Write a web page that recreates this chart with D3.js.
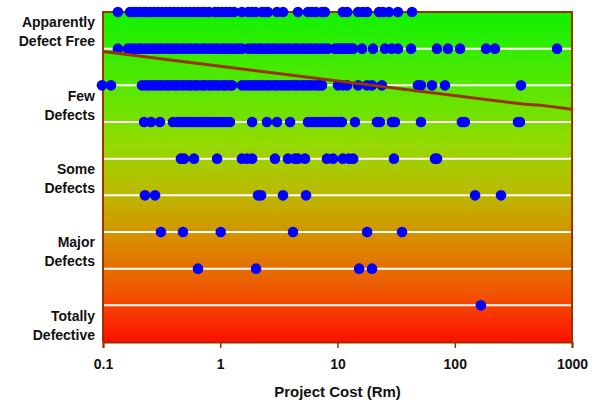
<!DOCTYPE html>
<html>
<head>
<meta charset="utf-8">
<script src="https://cdn.jsdelivr.net/npm/d3@7"></script>
<style>
  html, body { margin: 0; padding: 0; background: #ffffff; }
  svg { display: block; }
  text { font-family: "Liberation Sans", Arial, sans-serif; font-weight: bold; fill: #111; }
</style>
</head>
<body>
<div id="chart"></div>
<script>
// ---------- DATA ----------
// Project cost (Rm) of each project, grouped by quality level (9 = top row)
const level9Cost = [0.134, 0.170, 0.180, 0.191, 0.207, 0.224, 0.233, 0.252, 0.272, 0.294, 0.319, 0.345, 0.373,
  0.403, 0.436, 0.472, 0.511, 0.552, 0.597, 0.646, 0.698, 0.741, 0.802, 0.902, 0.957, 1.035, 1.12, 1.21, 1.31,
  1.53, 1.73, 1.87, 2.0, 2.27, 2.45, 2.55, 3.05, 3.43, 4.60, 5.60, 6.05, 6.55, 7.37, 7.82, 11.1, 12.1, 15.0,
  16.5, 17.9, 22.6, 24.4, 27.5, 32.8, 43.2];
const level8Cost = [0.134, 0.163, 0.176, 0.188, 0.203, 0.215, 0.233, 0.249, 0.267, 0.284, 0.306, 0.324, 0.351,
  0.373, 0.403, 0.428, 0.463, 0.491, 0.531, 0.563, 0.609, 0.646, 0.698, 0.741, 0.802, 0.851, 0.920, 0.976,
  1.06, 1.12, 1.21, 1.29, 1.39, 1.47, 1.53, 1.73, 1.87, 1.98, 2.14, 2.27, 2.45, 2.60, 2.81, 2.98, 3.23, 3.43,
  3.71, 3.94, 4.26, 4.51, 4.88, 5.18, 5.60, 5.94, 6.42, 6.82, 7.37, 7.82, 8.29, 9.51, 10.1, 10.7, 11.4, 12.1,
  12.8, 13.6, 16.2, 20.1, 25.4, 29.1, 32.8, 42.4, 70.5, 87.5, 111, 185, 220, 745];
const level7Cost = [0.098, 0.117, 0.215, 0.233, 0.249, 0.267, 0.284, 0.306, 0.324, 0.351, 0.373, 0.403, 0.428,
  0.463, 0.491, 0.531, 0.563, 0.609, 0.646, 0.698, 0.741, 0.802, 0.851, 0.920, 0.976, 1.06, 1.12, 1.21, 1.26,
  1.53, 1.66, 1.76, 1.90, 2.02, 2.18, 2.31, 2.50, 2.66, 2.87, 3.05, 3.30, 3.50, 3.78, 4.01, 4.34, 4.60, 4.98,
  5.28, 5.71, 6.05, 6.55, 6.94, 7.37, 10.1, 11.1, 12.1, 15.0, 17.9, 19.7, 23.9, 48.6, 51.5, 64.0, 82.5, 367];
const level6Cost = [0.224, 0.257, 0.306, 0.395, 0.428, 0.455, 0.491, 0.521, 0.563, 0.597, 0.646, 0.685, 0.741,
  0.787, 0.851, 0.902, 0.976, 1.035, 1.12, 1.21, 1.87, 2.50, 3.05, 3.94, 5.60, 6.05, 6.42, 6.94, 7.37, 7.97,
  8.46, 9.16, 9.71, 10.5, 10.9, 14.1, 21.7, 23.0, 29.1, 30.9, 51.5, 115, 122, 346, 360];
const level5Cost = [0.462, 0.491, 0.597, 0.94, 1.53, 1.69, 1.87, 2.93, 3.78, 4.34, 4.6, 5.28, 8.13, 9.16, 11.1,
  12.5, 13.6, 30.3, 67.9, 70.6];
const level4Cost = [0.228, 0.278, 2.10, 2.23, 3.43, 5.39, 149, 248];
const level3Cost = [0.312, 0.481, 1.01, 4.17, 17.9, 35.5];
const level2Cost = [0.646, 2.02, 15.3, 19.7];
const level1Cost = [167];

// Trend line (cost, level)
const trendCost = [0.1, 382, 533, 1000];
const trendLevel = [7.92, 6.49, 6.46, 6.35];

// Axis ticks and category labels
const xTickValues = [0.1, 1, 10, 100, 1000];
const xTickLabels = ["0.1", "1", "10", "100", "1000"];
const gridLevels = [1, 2, 3, 4, 5, 6, 7, 8];
const categoryLines = [["Apparently", "Defect Free"], ["Few", "Defects"], ["Some", "Defects"], ["Major", "Defects"], ["Totally", "Defective"]];
const categoryLevels = [8.58, 6.58, 4.58, 2.58, 0.58];
const xTitle = "Project Cost (Rm)";

// ---------- LAYOUT ----------
const W = 597, H = 405;
const plot = { left: 103, right: 572, top: 12, bottom: 342 };
const brown = "#993300";

const svg = d3.select("#chart").append("svg").attr("width", W).attr("height", H);

const x = d3.scaleLog().domain([0.1, 1000]).range([plot.left, plot.right]);
const y = d3.scaleLinear().domain([0, 9]).range([plot.bottom, plot.top]);

// gradient background
const defs = svg.append("defs");
const grad = defs.append("linearGradient").attr("id", "bg").attr("x1", 0).attr("y1", 0).attr("x2", 0).attr("y2", 1);
[[0, "rgb(16,242,0)"], [0.25, "rgb(95,230,0)"], [0.4, "rgb(148,218,0)"], [0.55, "rgb(188,185,0)"],
 [0.7, "rgb(218,138,0)"], [0.85, "rgb(240,85,0)"], [1, "rgb(255,16,0)"]].forEach(s =>
  grad.append("stop").attr("offset", s[0]).attr("stop-color", s[1]));

svg.append("rect")
  .attr("x", plot.left).attr("y", plot.top)
  .attr("width", plot.right - plot.left).attr("height", plot.bottom - plot.top)
  .attr("fill", "url(#bg)");

// white gridlines
svg.append("g").selectAll("line").data(gridLevels).join("line")
  .attr("x1", plot.left).attr("x2", plot.right)
  .attr("y1", d => y(d)).attr("y2", d => y(d))
  .attr("stroke", "#fff").attr("stroke-width", 2);

// border (top, right) and left axis line
svg.append("path")
  .attr("d", `M${plot.left},${plot.bottom}V${plot.top}H${plot.right}V${plot.bottom}`)
  .attr("fill", "none").attr("stroke", brown).attr("stroke-width", 2);

// x axis
const xAxis = d3.axisBottom(x).tickValues(xTickValues)
  .tickFormat((d, i) => xTickLabels[i]).tickSize(6).tickPadding(11);
const gx = svg.append("g").attr("transform", `translate(0,${plot.bottom})`).call(xAxis);
gx.select(".domain").attr("stroke", brown).attr("stroke-width", 2);
gx.selectAll(".tick line").attr("stroke", brown).attr("stroke-width", 1.5);
gx.selectAll(".tick text").style("font-size", "14px").style("font-family", '"Liberation Sans", Arial, sans-serif')
  .style("font-weight", "bold").attr("fill", "#111");

// x title
svg.append("text").attr("x", (plot.left + plot.right) / 2).attr("y", 397)
  .attr("text-anchor", "middle").style("font-size", "15px").text(xTitle);

// category labels
const cat = svg.append("g");
categoryLines.forEach((lines, i) => {
  const t = cat.append("text").attr("text-anchor", "end").style("font-size", "14px");
  lines.forEach((ln, j) => {
    t.append("tspan").attr("x", 95).attr("y", y(categoryLevels[i]) + j * 19).text(ln);
  });
});

// points
const levels = [
  [9, level9Cost], [8, level8Cost], [7, level7Cost], [6, level6Cost], [5, level5Cost],
  [4, level4Cost], [3, level3Cost], [2, level2Cost], [1, level1Cost]
];
const points = [];
levels.forEach(([lv, arr]) => arr.forEach(c => points.push({ cost: c, level: lv })));

svg.append("g").selectAll("circle").data(points).join("circle")
  .attr("cx", d => x(d.cost)).attr("cy", d => y(d.level))
  .attr("r", 5.3).attr("fill", "#0000ff");

// trend line
const trend = trendCost.map((c, i) => ({ cost: c, level: trendLevel[i] }));
svg.append("path").datum(trend)
  .attr("d", d3.line().x(d => x(d.cost)).y(d => y(d.level)))
  .attr("fill", "none").attr("stroke", brown).attr("stroke-width", 3);
</script>
</body>
</html>
